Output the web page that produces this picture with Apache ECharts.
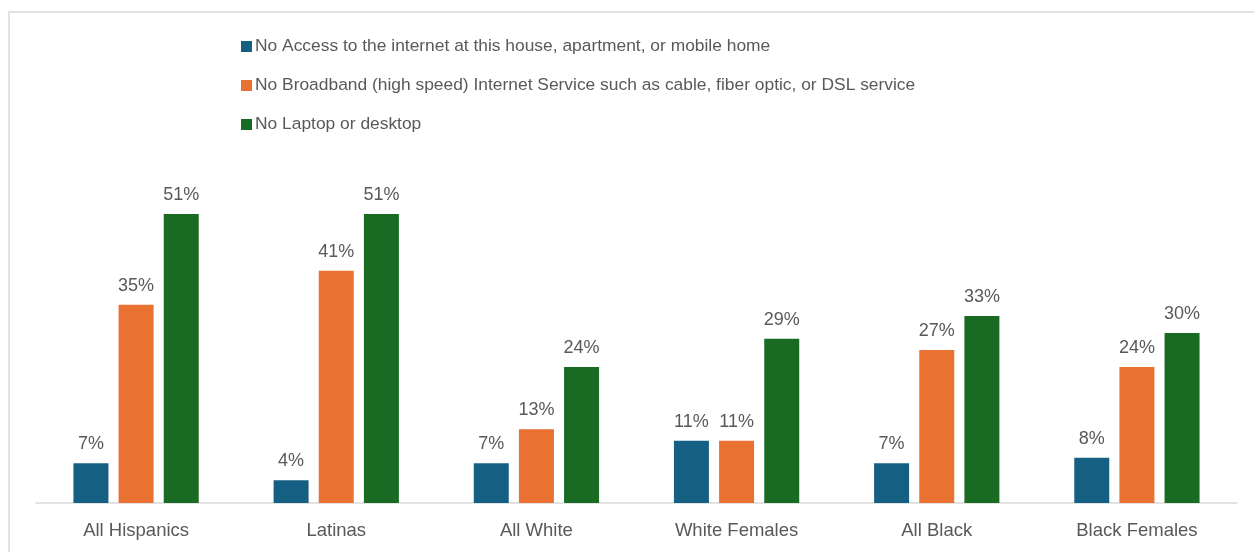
<!DOCTYPE html>
<html>
<head>
<meta charset="utf-8">
<script src="https://cdn.jsdelivr.net/npm/echarts@6/dist/echarts.min.js"></script>
<style>
  html, body { margin: 0; padding: 0; background: #fff; }
  #chart { width: 1254px; height: 552px; }
</style>
</head>
<body>
<div id="chart"></div>
<script>
// Groups shown along the horizontal axis
const categories = ['All Hispanics', 'Latinas', 'All White', 'White Females', 'All Black', 'Black Females'];

// Share (%) of each group lacking the item
const noInternetAccess = [7, 4, 7, 11, 7, 8];
const noBroadband = [35, 41, 13, 11, 27, 24];
const noComputer = [51, 51, 24, 29, 33, 30];

const seriesNames = [
  'No Access to the internet at this house, apartment, or mobile home',
  'No Broadband (high speed) Internet Service such as cable, fiber optic, or DSL service',
  'No Laptop or desktop'
];
const colors = ['#156082', '#E97132', '#196B24'];
const fontFamily = '"Liberation Sans", Arial, sans-serif';

const chart = echarts.init(document.getElementById('chart'));

function barSeries(name, data, color) {
  return {
    name: name,
    type: 'bar',
    data: data,
    barWidth: 35,
    barGap: '29%',
    itemStyle: { color: color },
    label: {
      show: true,
      position: 'top',
      distance: 10,
      formatter: '{c}%',
      color: '#595959',
      fontSize: 18,
      fontFamily: fontFamily
    }
  };
}

chart.setOption({
  animation: false,
  color: colors,
  graphic: [{
    type: 'rect',
    shape: { x: 9, y: 12, width: 1300, height: 600 },
    style: { fill: 'none', stroke: '#D9D9D9', lineWidth: 1.5 },
    silent: true
  }],
  legend: {
    orient: 'vertical',
    left: 236,
    top: 33,
    itemWidth: 11,
    itemHeight: 11,
    itemGap: 22,
    icon: 'rect',
    textStyle: { color: '#595959', fontSize: 17.4, fontFamily: fontFamily, padding: [0, 0, 0, -2] },
    data: seriesNames
  },
  grid: { left: 36, right: 17, top: 163, bottom: 49, containLabel: false },
  xAxis: {
    type: 'category',
    data: categories,
    axisLine: { lineStyle: { color: '#D9D9D9', width: 1.5 } },
    axisTick: { show: false },
    axisLabel: { color: '#595959', fontSize: 18.5, fontFamily: fontFamily, margin: 18 }
  },
  yAxis: {
    type: 'value',
    min: 0,
    max: 60,
    interval: 10,
    show: false,
    splitLine: { show: false }
  },
  series: [
    barSeries(seriesNames[0], noInternetAccess, colors[0]),
    barSeries(seriesNames[1], noBroadband, colors[1]),
    barSeries(seriesNames[2], noComputer, colors[2])
  ]
});
</script>
</body>
</html>
